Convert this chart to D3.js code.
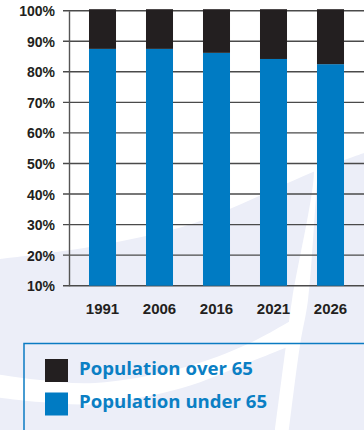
<!DOCTYPE html>
<html>
<head>
<meta charset="utf-8">
<script src="https://cdn.jsdelivr.net/npm/d3@7"></script>
<style>
  html, body { margin: 0; padding: 0; background: #fff; }
  svg { display: block; font-family: "Open Sans", "Noto Sans", sans-serif; }
</style>
</head>
<body>
<script>
(function () {
  'use strict';

  var years = ['1991', '2006', '2016', '2021', '2026'];
  var under65 = [87.5, 87.5, 86.2, 84.2, 82.5];
  var over65 = [12.5, 12.5, 13.8, 15.8, 17.5];
  var yTicks = [10, 20, 30, 40, 50, 60, 70, 80, 90, 100];
  var seriesKeys = ['under', 'over'];
  var seriesNames = ['Population over 65', 'Population under 65'];

  var width = 364,
    height = 430,
    colors = { under: '#007bc3', over: '#231f20' },
    svgEl, x, y, rows, stacked;

  init();

  function init() {
    svgEl = d3.select('body')
      .append('svg')
      .attr('width', width)
      .attr('height', height);

    drawBackdrop();

    x = d3.scaleBand()
      .domain(years)
      .range([74, 359])
      .paddingInner(0.526)
      .paddingOuter(0.263);

    y = d3.scaleLinear()
      .domain([10, 100])
      .range([285.7, 10.7])
      .clamp(true);

    rows = years.map(function (yr, i) {
      return { year: yr, under: under65[i], over: over65[i] };
    });
    stacked = d3.stack().keys(seriesKeys)(rows);

    drawGrid();
    drawBars();
    drawAxes();
    drawLegend();
  }

  // soft lavender panel with white swooshes behind the chart
  function drawBackdrop() {
    var curve = d3.line().curve(d3.curveCatmullRom);
    var g = svgEl.append('g');

    g.append('rect')
      .attr('width', width)
      .attr('height', height)
      .attr('fill', '#eceef8');

    var topEdge = [[0, 259], [90, 247], [182, 227], [232, 208], [313, 172], [364, 153]];
    g.append('path')
      .attr('d', 'M0,0L364,0' + curve(topEdge.slice().reverse()).replace('M', 'L') + 'Z')
      .attr('fill', '#fff');

    var stripeL = [[311, 150], [314, 172], [292, 300], [286, 345], [275, 430]];
    var stripeR = [[289, 430], [300, 345], [308, 300], [318, 172], [321, 150]];
    g.append('path')
      .attr('d', curve(stripeL) + curve(stripeR).replace('M', 'L') + 'Z')
      .attr('fill', '#fff');

    var swUp = [[-5, 374], [40, 380], [95, 383], [182, 368], [250, 343], [302, 314]];
    var swLo = [[290, 346], [250, 362], [182, 388], [95, 404], [40, 402], [-5, 397]];
    g.append('path')
      .attr('d', curve(swUp) + curve(swLo).replace('M', 'L') + 'Z')
      .attr('fill', '#fff');
  }

  function drawGrid() {
    svgEl.append('g')
      .selectAll('line')
      .data(yTicks)
      .enter()
      .append('line')
      .attr('x1', 63)
      .attr('x2', width)
      .attr('y1', function (d) { return y(d); })
      .attr('y2', function (d) { return y(d); })
      .attr('stroke', '#4a4a4a')
      .attr('stroke-width', 1.4);
  }

  function drawBars() {
    svgEl.append('g')
      .selectAll('g')
      .data(stacked)
      .enter()
      .append('g')
      .attr('fill', function (d) { return colors[d.key]; })
      .selectAll('rect')
      .data(function (d) { return d; })
      .enter()
      .append('rect')
      .attr('x', function (d) { return x(d.data.year); })
      .attr('width', x.bandwidth())
      .attr('y', function (d) { return y(d[1]) - (d[1] >= 100 ? 1.5 : 0); })
      .attr('height', function (d) {
        return y(d[0]) - y(d[1]) + (d[1] >= 100 ? 1.5 : 0);
      });
  }

  function drawAxes() {
    var yAxis = svgEl.append('g')
      .attr('transform', 'translate(69,0)')
      .call(d3.axisLeft(y)
        .tickValues(yTicks)
        .tickSize(0)
        .tickPadding(14)
        .tickFormat(function (d) { return d + '%'; }));

    yAxis.select('.domain')
      .attr('stroke', '#555')
      .attr('stroke-width', 1.4);

    yAxis.selectAll('text')
      .attr('fill', '#231f20')
      .attr('font-size', 14)
      .attr('font-weight', 700)
      .attr('dy', '0.36em');

    var xAxis = svgEl.append('g')
      .attr('transform', 'translate(0,' + 285.7 + ')')
      .call(d3.axisBottom(x).tickSize(0).tickPadding(0));

    xAxis.select('.domain').remove();

    xAxis.selectAll('text')
      .attr('fill', '#231f20')
      .attr('font-size', 15)
      .attr('font-weight', 700)
      .attr('dy', null)
      .attr('y', 28);
  }

  function drawLegend() {
    var lg = svgEl.append('g');

    lg.append('rect')
      .attr('x', 24)
      .attr('y', 343.5)
      .attr('width', 360)
      .attr('height', 120)
      .attr('fill', 'none')
      .attr('stroke', '#0b7bc2')
      .attr('stroke-width', 1.5);

    var items = lg.selectAll('g.item')
      .data(seriesNames)
      .enter()
      .append('g')
      .attr('class', 'item')
      .attr('transform', function (d, i) {
        return 'translate(45,' + (359 + i * 33.5) + ')';
      });

    items.append('rect')
      .attr('width', 23)
      .attr('height', 23)
      .attr('fill', function (d, i) { return i === 0 ? colors.over : colors.under; });

    items.append('text')
      .attr('x', 34)
      .attr('y', 15.5)
      .attr('fill', '#0b7fc4')
      .attr('font-size', 18.6)
      .attr('font-weight', 700)
      .text(function (d) { return d; });
  }
}());
</script>
</body>
</html>
